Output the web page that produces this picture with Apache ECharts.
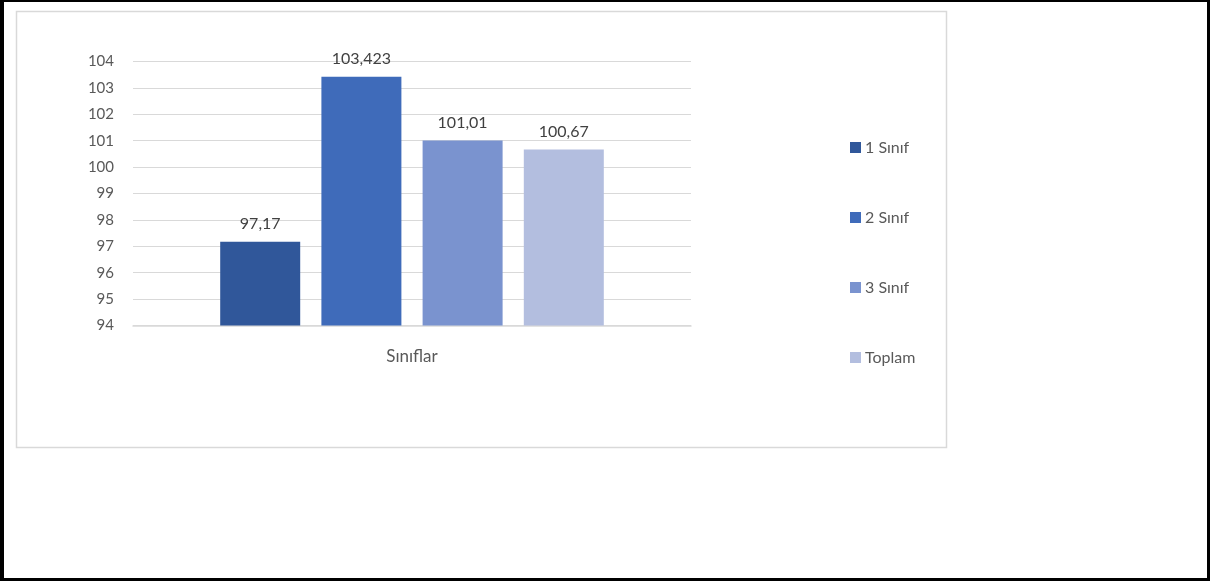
<!DOCTYPE html>
<html>
<head>
<meta charset="utf-8">
<script src="https://cdn.jsdelivr.net/npm/echarts@6/dist/echarts.min.js"></script>
<style>
html,body{margin:0;padding:0;background:#fff;}
#frame{position:absolute;left:0;top:0;width:1210px;height:581px;box-sizing:border-box;border-style:solid;border-color:#000;border-width:2px 3px 3px 4px;}
#chart{position:absolute;left:0;top:0;width:1210px;height:581px;}
</style>
</head>
<body>
<div id="chart"></div>
<div id="frame"></div>
<script>
const categories = ['Sınıflar'];
const seriesNames = ['1 Sınıf', '2 Sınıf', '3 Sınıf', 'Toplam'];
const seriesValues = [97.17, 103.423, 101.01, 100.67];
const seriesColors = ['#30579A', '#3F6BBA', '#7A93CF', '#B3BEDF'];
const yMin = 94, yMax = 104, yStep = 1;

const font = 'Lato, "Open Sans", sans-serif';
const chart = echarts.init(document.getElementById('chart'), null, {renderer: 'canvas'});
const series = seriesNames.map((name, i) => ({
  name: name,
  type: 'bar',
  data: [seriesValues[i]],
  barWidth: 80,
  barGap: '26.5%',
  itemStyle: {color: seriesColors[i]},
  label: {
    show: true,
    position: 'top',
    distance: 10,
    color: '#404040',
    fontSize: 16,
    fontFamily: font,
    formatter: p => String(p.value).replace('.', ',')
  }
}));
chart.setOption({
  animation: false,
  backgroundColor: '#fff',
  graphic: [{
    type: 'rect',
    shape: {x: 16.5, y: 11.5, width: 930, height: 436},
    style: {fill: 'none', stroke: '#D9D9D9', lineWidth: 1.5},
    silent: true
  }],
  grid: {left: 133, right: 519, top: 61.5, bottom: 255.5, containLabel: false},
  xAxis: {
    type: 'category',
    data: categories,
    axisLine: {show: true, lineStyle: {color: '#D9D9D9', width: 1.5}},
    axisTick: {show: false},
    axisLabel: {color: '#595959', fontSize: 17, fontFamily: font, margin: 23}
  },
  yAxis: {
    type: 'value',
    min: yMin, max: yMax, interval: yStep,
    axisLine: {show: false},
    axisTick: {show: false},
    splitLine: {lineStyle: {color: '#D9D9D9', width: 1}},
    axisLabel: {color: '#595959', fontSize: 15, fontFamily: font, margin: 19}
  },
  legend: {
    orient: 'vertical',
    left: 845,
    top: 134,
    itemWidth: 11,
    itemHeight: 11,
    itemGap: 53,
    icon: 'rect',
    textStyle: {color: '#595959', fontSize: 16, fontFamily: font, lineHeight: 17, padding: [0,0,0,-1]},
    data: seriesNames
  },
  series: series
});
</script>
</body>
</html>
